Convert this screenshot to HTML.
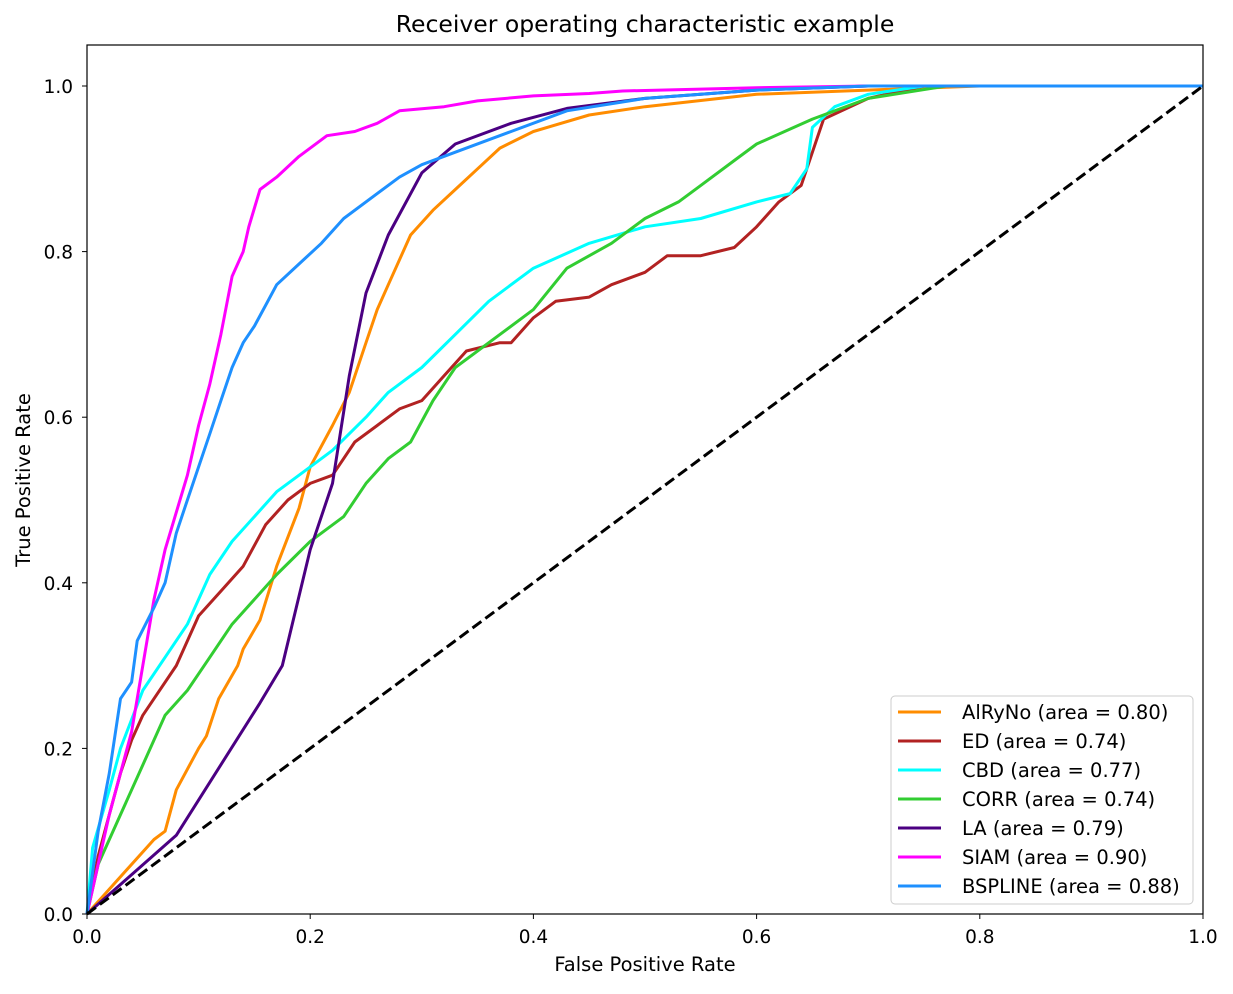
<!DOCTYPE html>
<html><head><meta charset="utf-8"><style>
body{margin:0;background:#fff}
svg text{font-family:"DejaVu Sans","Liberation Sans",sans-serif;fill:#000}
</style></head><body>
<svg id="chart" width="1233" height="989" xmlns="http://www.w3.org/2000/svg">
<rect width="1233" height="989" fill="#fff"/>
<text x="645" y="32" font-size="23.5" text-anchor="middle">Receiver operating characteristic example</text>
<g id="marks"></g>
<g id="axes"></g>
<text x="645" y="971" font-size="19.5" text-anchor="middle">False Positive Rate</text>
<text x="30" y="480" font-size="19.5" text-anchor="middle" transform="rotate(-90 30 480)">True Positive Rate</text>
<g id="legend"></g>
</svg>
<script>
const seriesNames=["AlRyNo","ED","CBD","CORR","LA","SIAM","BSPLINE"];
const seriesAreas=["0.80","0.74","0.77","0.74","0.79","0.90","0.88"];
const seriesColors=["#ff8c00","#b22222","#00ffff","#32cd32","#4b0082","#ff00ff","#1e90ff"];
const xTicks=[0,0.2,0.4,0.6,0.8,1.0];
const yTicks=[0,0.2,0.4,0.6,0.8,1.0];
const alrynoX=[0,0.06,0.07,0.08,0.1,0.107,0.118,0.135,0.14,0.155,0.17,0.19,0.2,0.22,0.235,0.25,0.26,0.27,0.29,0.31,0.33,0.35,0.37,0.4,0.45,0.5,0.6,0.7,0.8,1];
const alrynoY=[0,0.09,0.1,0.15,0.2,0.215,0.26,0.3,0.32,0.355,0.42,0.49,0.54,0.59,0.63,0.69,0.73,0.76,0.82,0.85,0.875,0.9,0.925,0.945,0.965,0.975,0.99,0.995,1,1];
const edX=[0,0.01,0.02,0.03,0.04,0.05,0.06,0.08,0.1,0.12,0.14,0.16,0.18,0.2,0.22,0.24,0.26,0.28,0.3,0.32,0.34,0.37,0.38,0.4,0.42,0.45,0.47,0.5,0.52,0.55,0.58,0.6,0.62,0.64,0.65,0.66,0.7,0.75,1];
const edY=[0,0.07,0.12,0.17,0.21,0.24,0.26,0.3,0.36,0.39,0.42,0.47,0.5,0.52,0.53,0.57,0.59,0.61,0.62,0.65,0.68,0.69,0.69,0.72,0.74,0.745,0.76,0.775,0.795,0.795,0.805,0.83,0.86,0.88,0.92,0.96,0.985,1,1];
const cbdX=[0,0.005,0.02,0.03,0.05,0.07,0.09,0.11,0.13,0.15,0.17,0.2,0.22,0.25,0.27,0.3,0.33,0.36,0.4,0.45,0.5,0.55,0.6,0.63,0.645,0.65,0.67,0.7,0.75,1];
const cbdY=[0,0.08,0.15,0.2,0.27,0.31,0.35,0.41,0.45,0.48,0.51,0.54,0.56,0.6,0.63,0.66,0.7,0.74,0.78,0.81,0.83,0.84,0.86,0.87,0.9,0.95,0.975,0.99,1,1];
const corrX=[0,0.01,0.03,0.05,0.07,0.09,0.11,0.13,0.15,0.17,0.2,0.23,0.25,0.27,0.29,0.31,0.33,0.36,0.4,0.43,0.47,0.5,0.53,0.55,0.58,0.6,0.65,0.7,0.77,1];
const corrY=[0,0.06,0.12,0.18,0.24,0.27,0.31,0.35,0.38,0.41,0.45,0.48,0.52,0.55,0.57,0.62,0.66,0.69,0.73,0.78,0.81,0.84,0.86,0.88,0.91,0.93,0.96,0.985,1,1];
const laX=[0,0.08,0.155,0.175,0.2,0.22,0.235,0.25,0.27,0.3,0.33,0.38,0.43,0.5,0.6,0.7,1];
const laY=[0,0.095,0.255,0.3,0.44,0.52,0.65,0.75,0.82,0.895,0.93,0.955,0.973,0.985,0.995,1,1];
const siamX=[0,0.02,0.04,0.05,0.06,0.07,0.09,0.1,0.11,0.12,0.13,0.14,0.145,0.155,0.17,0.19,0.215,0.24,0.26,0.28,0.32,0.35,0.4,0.45,0.48,0.6,0.7,1];
const siamY=[0,0.12,0.22,0.3,0.38,0.44,0.53,0.59,0.64,0.7,0.77,0.8,0.83,0.875,0.89,0.915,0.94,0.945,0.955,0.97,0.975,0.982,0.988,0.991,0.994,0.998,1,1];
const bsplineX=[0,0.01,0.02,0.03,0.04,0.045,0.06,0.07,0.08,0.09,0.1,0.11,0.12,0.13,0.14,0.15,0.16,0.17,0.19,0.21,0.23,0.26,0.28,0.3,0.33,0.38,0.43,0.5,0.6,0.7,1];
const bsplineY=[0,0.1,0.17,0.26,0.28,0.33,0.37,0.4,0.46,0.5,0.54,0.58,0.62,0.66,0.69,0.71,0.735,0.76,0.785,0.81,0.84,0.87,0.89,0.905,0.92,0.945,0.97,0.985,0.995,1,1];
const allX=[alrynoX,edX,cbdX,corrX,laX,siamX,bsplineX];
const allY=[alrynoY,edY,cbdY,corrY,laY,siamY,bsplineY];

const NS="http://www.w3.org/2000/svg";
const L=87,R=1203,T=45,B=914;
const sx=v=>L+(R-L)*v;
const sy=v=>B-(B-86)*v;
function mk(tag,attrs,parent){const e=document.createElementNS(NS,tag);for(const k in attrs)e.setAttribute(k,attrs[k]);parent.appendChild(e);return e;}
const marks=document.getElementById('marks');
allX.forEach((xs,i)=>{
  const d=xs.map((x,j)=>(j?'L':'M')+sx(x).toFixed(1)+','+sy(allY[i][j]).toFixed(1)).join('');
  const p=mk('path',{d:d,fill:'none',stroke:seriesColors[i],'stroke-width':3,'stroke-linejoin':'round'},marks);
  
  
});
const diag=mk('line',{x1:sx(0),y1:sy(0),x2:sx(1),y2:sy(1),stroke:'#000','stroke-width':3,'stroke-dasharray':'11,5'},marks);


const axes=document.getElementById('axes');
const frame=mk('rect',{x:L,y:T,width:R-L,height:B-T,fill:'none',stroke:'#000','stroke-width':1.2},axes);


xTicks.forEach(v=>{
  mk('line',{x1:sx(v),y1:B,x2:sx(v),y2:B+5,stroke:'#000'},axes);
  const t=mk('text',{x:sx(v),y:B+29,'font-size':18.5,'text-anchor':'middle'},axes);t.textContent=v.toFixed(1);
  
  
});
yTicks.forEach(v=>{
  mk('line',{x1:L-5,y1:sy(v),x2:L,y2:sy(v),stroke:'#000'},axes);
  const t=mk('text',{x:73,y:sy(v)+7,'font-size':18.5,'text-anchor':'end'},axes);t.textContent=v.toFixed(1);
  
  
});
const lg=document.getElementById('legend');
mk('rect',{x:891,y:696,width:302,height:208,rx:4,fill:'#fff','fill-opacity':0.8,stroke:'#ccc'},lg);
seriesNames.forEach((n,i)=>{
  const y=712+i*29;
  const g=mk('g',{},lg);
  
  
  mk('line',{x1:898,y1:y,x2:941,y2:y,stroke:seriesColors[i],'stroke-width':3},g);
  const t=mk('text',{x:962,y:y+7,'font-size':19.5},g);t.textContent=n+' (area = '+seriesAreas[i]+')';
});
</script>
</body></html>
